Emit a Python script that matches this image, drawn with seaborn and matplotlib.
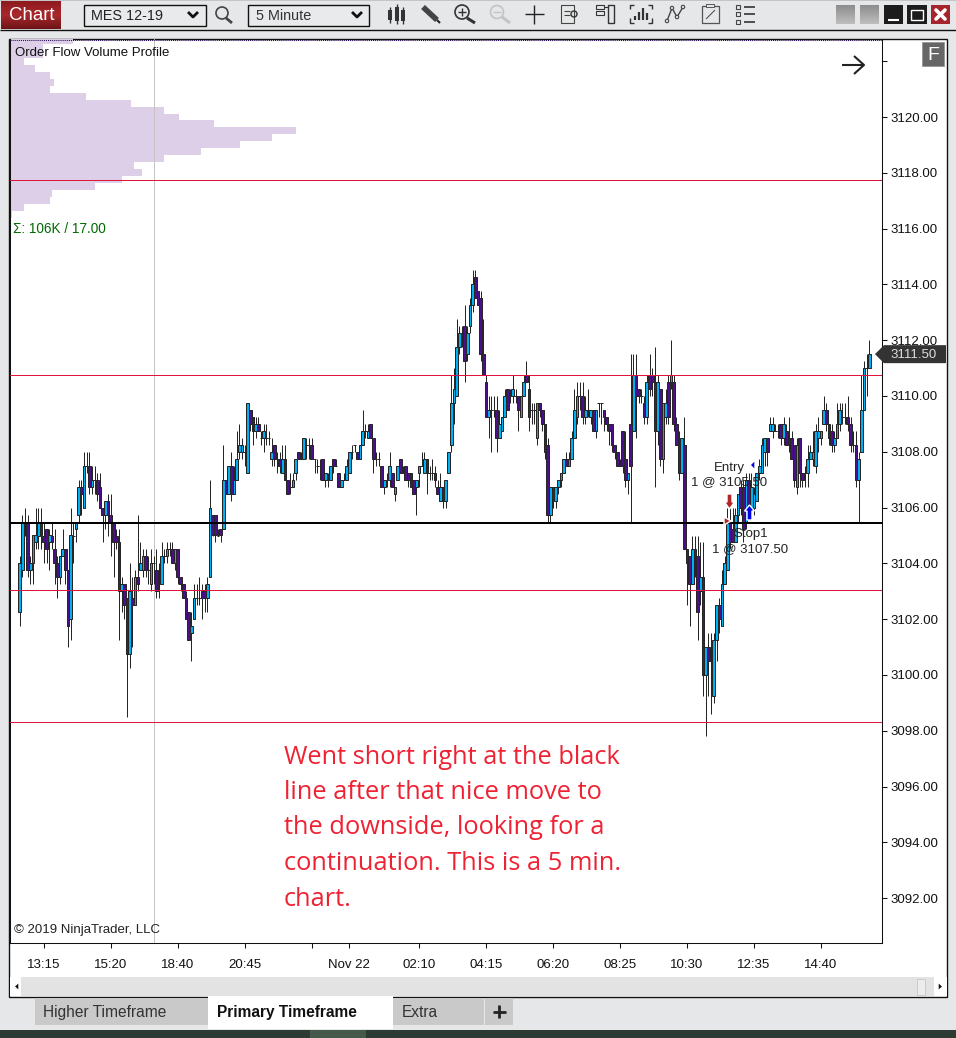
import matplotlib
matplotlib.use("Agg")
import matplotlib.pyplot as plt
from matplotlib.patches import Circle, Polygon, Rectangle
import numpy as np
import pandas as pd
import seaborn as sns

# prices are stored as points above this level
BASE_PRICE = 3100

bar_open = [
    2.25,3.75,5.5,5.5,3.75,4,4.75,5,5.5,5,
    5.25,4.75,5,4.5,4,3.5,4.25,4.5,3.75,2,
    5,5.25,5.75,6.75,6,7.5,7.5,6.75,7,7,
    6.75,6,5.75,6.25,5.75,5.5,5,4.75,3,3.25,
    2.75,0.75,2.75,2.5,3.5,3.75,3.75,4.25,3.75,3.25,
    4,3.75,3.25,3.25,4.25,4.25,4.5,4.5,4,4.5,
    3.5,3.25,2.75,2.25,1.5,2,2.75,2.75,3,3,
    2.75,3.5,5.75,5.75,5,5.25,5.25,7,6.5,7.5,
    6.5,7,8,8,8,7.25,9.5,9.25,8.75,9,
    8.5,8.5,8.5,8.5,7.75,8.25,7.75,7.75,7.25,7.75,
    7,6.75,6.75,7.25,8,7.75,7.75,8.25,8.25,8.25,
    7.75,7.5,7.5,7.75,7,7,7,7.75,7.5,7.25,
    6.75,7,7,7.25,8,8.25,8,7.75,8.25,8.75,
    8.5,9,8.5,7.75,7.75,7.5,6.75,7,7,7.25,
    6.5,7,7.75,7.25,7.5,7.25,7.25,7,6.75,7.25,
    7.5,7.25,7.75,7.25,7.25,7.25,6.75,6.25,6.75,6.25,
    7.25,8.25,9.75,10,11.75,12.25,12.5,11.5,12.5,13.25,
    14.25,13.75,13.5,11.5,10.5,9.25,9.5,9.5,9.5,8.5,
    8.75,9.25,10.25,10,10,10,10,9.25,10,10.75,
    10.25,9.5,9.5,8.5,9.75,9.5,9,8.25,5.75,6.75,
    6.25,6.75,7,7.25,7.75,7.5,7.75,8.5,9.25,10,
    10,9.25,9.5,9.25,9.5,8.75,9.75,9.75,9.5,9.25,
    9,9,8.25,8,7.5,8.75,7.75,7,9,8.75,
    10.75,10.25,10,9.75,9.25,10.75,10.75,10.5,8.75,10.25,
    7.75,9.25,10.5,10.5,10.5,9,8.25,7.25,8.25,4.5,
    4.25,3.25,4.5,4.25,3,3.5,0,1,0.5,-0.75,
    1.25,2.5,1.75,3.25,3.75,5.5,5.25,4.75,5.75,6.75,
    6.75,5.5,7,6,6,6.25,7.25,7.25,8,8.5,
    8.75,8.75,8.75,8.75,9,8.5,8.75,8.5,8.5,8.25,
    6.75,8.5,7.25,7.25,7.25,7.75,7.75,7.5,8.5,8.5,
    9,9.5,9,8.75,8.25,8.5,9,9.25,9.25,9.25,
    9,8.25,8.25,7,8,9.5,11,11,
]
bar_high = [
    4.25,5.75,6,5.75,4.25,5,6,6,6,5.5,
    5.25,5.25,5.5,5.25,4.25,4.25,5.25,4.5,3.75,6,
    5.5,5.5,7,7,8,8,8,7.5,7.5,7.25,
    7.25,6,6.25,6.5,6.5,5.5,5.25,5.25,3.5,3.25,
    2.75,4,3.5,3.75,5.75,4.75,4.5,4.5,4.25,4.5,
    4.25,4.5,4,4.75,4.5,4.75,4.75,4.75,4.5,4.5,
    3.5,3.25,3,2.25,2.25,3.25,3.25,3.5,3.25,3.25,
    3.5,7,5.75,5.75,5.25,5.25,8.25,7,7.5,8,
    7.5,8.75,9,8.5,8.25,9.75,9.5,9.25,9.25,9.25,
    8.75,9,9,8.75,8.5,8.25,8,8,8.25,8.25,
    7,7.25,7.25,7.75,8,8,8.5,8.5,8.5,8.5,
    7.75,7.75,7.75,7.75,7.25,7.25,7.5,7.75,7.75,7.25,
    7,7.25,7.75,8,8.25,8.25,8,8.25,9.5,9,
    9,9,8.5,8,8,7.5,7,7.25,8,7.25,
    6.75,7.5,7.75,7.5,7.5,7.25,7.25,7,7,7.5,
    8,8,7.75,7.5,7.75,7.5,7,7.25,6.75,7,
    8,10.75,11,12.75,12.5,12.5,13.25,12.5,13.5,14.5,
    14.5,13.75,13.75,12.75,10.75,10,10,10,10,9.5,
    9.25,10.25,10.25,10.25,10.75,10.25,10,10,10.75,11.25,
    10.75,9.75,9.75,9.75,9.75,9.5,9,8.5,6.75,6.75,
    6.75,7,7.25,7.75,8,8,8.75,10.25,10.5,10.5,
    10.5,10,10.25,9.5,9.5,9.5,9.75,9.75,9.5,9.25,
    9,9,8.25,8,7.75,8.75,8.75,7.25,11.5,11.5,
    11.5,10.25,10.25,10,10.75,11.5,11,11.75,10.75,10.25,
    9.75,10.25,10.75,12,10.75,9.25,8.75,8.5,9.25,4.5,
    4.25,5,5,5,4.75,4.75,1,1.5,1.5,1.5,
    2.5,2.75,3.75,4.25,6,6,6,6,6.5,7,
    7,7.25,7.25,7.25,6.75,7.25,7.75,8.5,8.5,8.5,
    9.25,9.25,9,9,9,9.25,9,9.25,8.75,8.25,
    8.5,8.5,7.25,7.5,8.25,8.25,8.75,9,9.25,8.75,
    10,9.75,9,9,8.75,9.75,9.75,9.75,9.75,10,
    9.25,8.75,8.75,8,10.75,11.25,11.5,12,
]
bar_low = [
    1.75,3.5,5,3.5,3.25,3.25,4.5,4.5,4.5,4,
    4,3.75,4.5,3.25,2.75,3.25,4.25,3.25,1,1.25,
    4,4.75,5.5,5.75,6,7.25,6.5,6.5,6.5,6.25,
    6,4.75,5.25,5,4.25,3.5,4.5,1.25,2.25,2,
    -1.5,0.25,1,2.5,3,3.75,3.5,3.5,3.25,3,
    3.25,2.75,2.75,3.25,4,4,4.25,4,3.75,3.25,
    3,2.75,2,1.25,0.5,2,2.5,2.5,2,2.25,
    2.25,3.5,5,4.75,5,4.75,5.25,6.5,6.5,6.25,
    6.5,7,7.75,7.75,7.5,7.25,8.75,8.25,8.5,8.75,
    8.25,8,8.25,8.25,7.5,7.5,7.25,7.25,7.25,7,
    6.5,6.5,6.75,7,7.75,7.75,7.75,7.75,7.75,7.75,
    7.25,7.25,7,7,6.75,6.75,7,7.25,7.5,6.75,
    6.75,7,7,7.25,7.75,8,7.75,7.75,8.25,8.5,
    8.5,8.5,7.25,7.5,7.5,6.75,6.5,6.75,6.75,6.75,
    6.25,7,7.25,7.25,7,6.75,6.75,6.5,5.75,6.75,
    7.5,7.25,6.5,7,7,6.75,6.5,6.25,6,6,
    7.25,8,9,10,11.5,11.75,10.5,11.25,12.25,13,
    13.5,13.25,11.25,10.75,9.25,8.5,8,9.25,8,8.5,
    8.75,9.25,9.5,9.75,9.75,9.75,8.75,9.25,10,10.5,
    8.75,9,9,8.25,9.25,8.75,7.75,5.5,5.5,6,
    6,6.5,6.75,7.25,7.5,7.5,7.75,8.5,9,9.5,
    9,9,9.25,9,8.75,8.5,9.25,9,8.75,8.75,
    8.25,8,7.75,7.5,7.5,7.25,6.75,6.5,5.5,8.75,
    8.5,9.75,9.75,9,9,10,10,6.75,8.25,7.5,
    7.25,9,9,10.25,8.75,8.25,7,7.25,4.5,2.5,
    1.75,3.25,3.5,1.25,2.5,-0.75,-2.2,-0.75,-1.4,-1,
    0.5,1.5,1.75,3.25,3.75,4.5,4.75,4.75,5.5,5.75,
    4.75,5.25,5.75,5.75,5.75,6.25,7,7.25,7.5,7.5,
    8.75,8.5,8.75,8.5,8.25,8.25,8.25,8,7.75,6.75,
    6.5,6.75,6.75,6.75,6.75,7.75,7.5,7.25,8,8.25,
    9,8.75,8.25,8,8,8.5,8.75,9,9,8.75,
    8,8,6.75,5.5,8,9.5,10,11,
]
bar_close = [
    4,5.5,5.5,3.75,4,5,5,5.5,5,4.75,
    4.5,5,4.75,4,3.5,4.25,4.5,3.75,1.75,5,
    5,5.5,6.75,6.5,7.5,7.5,6.75,7,7,6.5,
    6,5.75,6.25,5.75,5.5,4.75,4.75,3,3.25,2.5,
    0.75,3,2.5,3.5,3.25,4,4.25,3.75,3.75,4,
    4,3,3.25,4.25,4.25,4.5,4.5,4,4.5,3.5,
    3.25,2.75,2,1.25,1.75,2.75,2.75,2.75,2.75,2.75,
    3.25,6,5,5,5,5,7,6.5,7.5,6.5,
    7,7.75,8.25,8.25,8,9.75,9,8.75,9,8.75,
    8.5,8.75,8.5,8.5,8,7.75,7.75,7.5,7.75,7,
    6.5,6.75,7,7.75,7.75,7.75,8.5,8.25,8.25,7.75,
    7.75,7.5,7.5,7,7.25,7,7.5,7.5,7.5,6.75,
    7,7,7.5,8,8,8.25,7.75,8.25,8.75,8.75,
    8.75,8.5,7.75,7.75,7.75,6.75,7,7,7.5,6.75,
    6.75,7.5,7.25,7.25,7,7,6.75,6.5,7,7.5,
    7.5,7.75,7.25,7.25,7.25,7,6.5,6.75,6.25,7,
    8,9.75,10.25,11.75,12.25,12.25,11.25,12.25,13.25,14,
    13.5,13.25,11.5,10.75,9.25,9.5,9.5,9.5,8.5,9,
    9.25,10,9.5,10,10.25,10,9.5,10,10.5,10.5,
    9.25,9.5,9.5,9.75,9.5,9,8,5.75,6.75,6.25,
    6.75,7,7.25,7.75,7.5,7.75,8.5,9.5,10,10,
    9.25,9.5,9.5,9.5,8.75,9.5,9.75,9.75,9.25,9,
    8.75,8.25,8,7.5,7.5,7.5,7,7.25,7.5,10.75,
    10,10,10,9.25,10.5,10.25,10.5,8.75,10.5,7.75,
    9.75,9.75,9.25,10.75,9,8.25,7.25,8.5,4.5,4,
    3.25,4.5,4.25,2.25,3.5,0,1,0.5,0.5,1.25,
    2.5,2,3.25,4,5.5,4.75,4.75,5.75,6.5,6,
    5.25,7,6,6.75,6.5,7.25,7.5,8.25,8.5,8,
    9,9,8.75,8.75,8.5,9,8.25,8.25,7.75,7,
    8.25,7.25,7,7.25,7.75,8,8,8.75,8.75,8.75,
    9.5,9,8.5,8.25,8.5,9,9.5,9.25,9.25,9,
    8.25,8.25,7,7.75,9.5,11,11,11.5,
]

# order flow volume profile, one row per 0.25 point
profile_price = [
    3122.75, 3122.5, 3122.25, 3122, 3121.75, 3121.5, 3121.25, 3121, 3120.75,
    3120.5, 3120.25, 3120, 3119.75, 3119.5, 3119.25, 3119, 3118.75, 3118.5,
    3118.25, 3118, 3117.75, 3117.5, 3117.25, 3117, 3116.75, 3116.5,
]
profile_volume = [
    2480, 1300, 1300, 550, 985, 1575, 1735, 1575, 2995,
    4770, 6070, 6660, 8040, 11270, 10320, 9060, 7525, 6070,
    4885, 5200, 4410, 3350, 1655, 1575, 550, 60,
]

red_levels = [3117.755, 3110.765, 3103.055, 3098.315]
black_level = 3105.45
cursor_bar = 50
last_price = 3111.5

y_ticks = list(range(3092, 3124, 2))
y_tick_labels = [f"{v:.2f}" if v < 3122 else "" for v in y_ticks]
x_ticks = [9, 34, 59, 84, 109, 123, 149, 174, 199, 224, 249, 274, 299]
x_tick_labels = ["13:15", "15:20", "18:40", "20:45", "", "Nov 22", "02:10",
                 "04:15", "06:20", "08:25", "10:30", "12:35", "14:40"]

note_lines = [
    "Went short right at the black",
    "line after that nice move to",
    "the downside, looking for a",
    "continuation. This is a 5 min.",
    "chart.",
]

W, H = 956, 1038
PX_PER_POINT = 27.9
PX_PER_BAR = 2.68

sns.set_style("white")
plt.rcParams["font.family"] = ["Liberation Sans", "DejaVu Sans"]

bars = pd.DataFrame({"bar": np.arange(len(bar_open)),
                     "open": BASE_PRICE + np.array(bar_open),
                     "high": BASE_PRICE + np.array(bar_high),
                     "low": BASE_PRICE + np.array(bar_low),
                     "close": BASE_PRICE + np.array(bar_close)})
bars["body"] = bars["close"] - bars["open"]
profile = pd.DataFrame({"price": profile_price, "volume": profile_volume})

fig = plt.figure(figsize=(W / 100, H / 100), dpi=100, facecolor="#e6e7e8")


def pixel_axes(zorder):
    a = fig.add_axes([0, 0, 1, 1], zorder=zorder)
    a.set_xlim(0, W)
    a.set_ylim(H, 0)
    a.axis("off")
    a.patch.set_visible(False)
    return a


def box(a, x0, y0, x1, y1, fc, ec="none", lw=0.0, **kw):
    a.add_patch(Rectangle((x0, y0), x1 - x0, y1 - y0, facecolor=fc, edgecolor=ec, linewidth=lw, **kw))


def seg(a, xs, ys, c="#333333", lw=1.0):
    a.plot(xs, ys, color=c, lw=lw, solid_capstyle="butt")


# ---- window chrome ----
ui = pixel_axes(0)
box(ui, 0, 0, W, 1, "#c4c5c6")
seg(ui, [0, W], [29.5, 29.5], "#111111", 1.0)
ui.imshow(np.linspace(0, 1, 30).reshape(-1, 1), extent=(1, 61, 29, 1), aspect="auto", zorder=1,
          cmap=matplotlib.colors.LinearSegmentedColormap.from_list("b", ["#8e1a1f", "#a8282c", "#6e1418"]))
ui.set_xlim(0, W)
ui.set_ylim(H, 0)
ui.text(32, 15.5, "Chart", color="white", fontsize=13.4, ha="center", va="center", zorder=2)
box(ui, 84.5, 4.5, 206.5, 25.5, "#e9eaeb", "#111111", 1.0)
box(ui, 248.5, 4.5, 369.5, 25.5, "#e9eaeb", "#111111", 1.0)
ui.text(91, 15.5, "MES 12-19", color="#222222", fontsize=10.4, va="center")
ui.text(256, 15.5, "5 Minute", color="#333333", fontsize=10.4, va="center")
for cx in [193, 357]:
    seg(ui, [cx - 5, cx, cx + 5], [12, 17, 12], "#111111", 2.0)

# toolbar icons
ui.add_patch(Circle((222, 13), 6, fill=False, ec="#444444", lw=1.2))
seg(ui, [226, 232], [18, 23], "#444444", 2)
for cx, y0, y1, h0, h1 in [(390, 7, 23, 10, 20), (397, 4, 24, 7, 21), (403, 7, 24, 10, 21)]:
    seg(ui, [cx, cx], [y0, y1], "#333333", 1)
    box(ui, cx - 2, h0, cx + 2, h1, "#333333")
seg(ui, [423, 437], [7, 20], "#444444", 4)
seg(ui, [437, 440], [20, 23], "#222222", 1.5)
ui.add_patch(Circle((462, 12), 7, fill=False, ec="#333333", lw=1.2))
seg(ui, [458, 466], [12, 12], "#333333", 1)
seg(ui, [462, 462], [8, 16], "#333333", 1)
seg(ui, [467, 475], [18, 23], "#333333", 2.2)
ui.add_patch(Circle((497, 12), 6.5, fill=False, ec="#c4c4c4", lw=1.2))
seg(ui, [493, 501], [12, 12], "#c4c4c4", 1)
seg(ui, [502, 510], [17, 23], "#c4c4c4", 2.2)
seg(ui, [525, 544], [14, 14], "#222222", 1)
seg(ui, [534.5, 534.5], [5, 24], "#222222", 1)
box(ui, 561, 5, 574, 23, "none", "#444444", 0.8)
ui.add_patch(Circle((574, 14), 3, fill=False, ec="#333333", lw=1))
seg(ui, [564, 570], [11, 11], "#444444", 0.8)
seg(ui, [564, 570], [15, 15], "#444444", 0.8)
box(ui, 596, 5, 604, 9, "none", "#333333", 0.8)
box(ui, 596, 11, 604, 15, "none", "#333333", 0.8)
box(ui, 608, 5, 614, 23, "none", "#333333", 1)
seg(ui, [604, 608], [7, 7], "#333333", 0.8)
for cx, bar_top in [(635, 16), (639, 12), (643, 8), (647, 13)]:
    seg(ui, [cx, cx], [bar_top, 20], "#333333", 1.6)
seg(ui, [630, 630, 634], [9, 5, 5], "#333333", 1)
seg(ui, [630, 630, 634], [18, 23, 23], "#333333", 1)
seg(ui, [648, 652, 652], [5, 5, 9], "#333333", 1)
seg(ui, [648, 652, 652], [23, 23, 18], "#333333", 1)
seg(ui, [667, 672, 677, 683], [21, 8, 17, 7], "#444444", 1)
for cx, cy in [(667, 21), (672, 8), (677, 17), (683, 7)]:
    ui.add_patch(Circle((cx, cy), 1.7, fc="#e6e7e8", ec="#444444", lw=0.8, zorder=3))
box(ui, 702, 6, 719, 23, "none", "#555555", 0.9)
box(ui, 706, 4, 714, 7, "#e6e7e8", "#555555", 0.7)
seg(ui, [706, 715], [19, 10], "#555555", 0.8)
for cy in [7, 14, 22]:
    box(ui, 736, cy - 2, 740, cy + 2, "none", "#444444", 0.8)
    seg(ui, [744, 755], [cy, cy], "#333333", 1.2)

# window buttons
for x0 in [836, 860]:
    ui.imshow(np.linspace(0, 1, 20).reshape(-1, 1), extent=(x0, x0 + 19, 24, 5), aspect="auto", zorder=1,
              cmap=matplotlib.colors.LinearSegmentedColormap.from_list("g", ["#8e8e8e", "#bdbdbd"]))
ui.set_xlim(0, W)
ui.set_ylim(H, 0)
box(ui, 884, 5, 903, 24, "#1c1c1c", zorder=2)
seg(ui, [888, 899], [20, 20], "white", 1.5)
box(ui, 907, 5, 927, 24, "#1c1c1c", zorder=2)
box(ui, 911, 10, 923, 20, "none", "white", 1, zorder=3)
box(ui, 931, 5, 950, 24, "#a4262c", zorder=2)
ui.plot([936, 945], [10, 19], color="white", lw=2.6, zorder=3)
ui.plot([945, 936], [10, 19], color="white", lw=2.6, zorder=3)

# chart frame, x axis strip and scroll bar
box(ui, 9.5, 38.5, 947.5, 996.5, "white", "#111111", 1.0)
box(ui, 10, 977, 947, 996, "#e3e3e3")
box(ui, 10, 977, 21, 996, "white")
box(ui, 934, 977, 947, 996, "white")
box(ui, 917, 979, 925, 995, "#ececec", "#cccccc", 0.7)
ui.add_patch(Polygon([[19, 982], [19, 991], [14, 986.5]], fc="#111111"))
ui.add_patch(Polygon([[938, 982], [938, 991], [943, 986.5]], fc="#111111"))

# tabs
box(ui, 0, 1030, W, H, "#2e3a34")
box(ui, 310, 1030, 366, H, "#465a4b")
box(ui, 35, 998, 208, 1025, "#c9c9c9")
box(ui, 208, 996, 393, 1029, "white")
box(ui, 393, 998, 484, 1025, "#c9c9c9")
box(ui, 485, 998, 513, 1025, "#c9c9c9")
ui.text(43, 1012.5, "Higher Timeframe", color="#333333", fontsize=11.2, va="center")
ui.text(217, 1012.5, "Primary Timeframe", color="#111111", fontsize=11.2, va="center", fontweight="bold")
ui.text(402, 1012.5, "Extra", color="#333333", fontsize=11.2, va="center")
seg(ui, [493, 506], [1011.5, 1011.5], "#222222", 2)
seg(ui, [499.5, 499.5], [1005, 1018], "#222222", 2)

# ---- price chart ----
ax_rect = [10 / W, 1 - 943 / H, 872 / W, 904 / H]
y_lim = (3120 - (943 - 117) / PX_PER_POINT, 3120 + (117 - 39) / PX_PER_POINT)
x_lim = ((10 - 19.7) / PX_PER_BAR, (882 - 19.7) / PX_PER_BAR)

ax_profile = fig.add_axes(ax_rect, zorder=1)
sns.barplot(data=profile, y="price", x="volume", orient="y", native_scale=True, width=1,
            color="#dccfe7", saturation=1, linewidth=0, errorbar=None, ax=ax_profile)
ax_profile.set_xlim(0, 872 * 39.4)
ax_profile.set_ylim(*y_lim)
ax_profile.axis("off")

ax = fig.add_axes(ax_rect, zorder=2)
ax.patch.set_visible(False)
ax.axvline(cursor_bar, color="#c4c4c4", lw=0.72, zorder=0.2)
ax.vlines(bars["bar"], bars["low"], bars["high"], color="#262626", lw=0.72, zorder=0.5)

up_bars = bars[bars["close"] >= bars["open"]]
down_bars = bars[bars["close"] < bars["open"]]
sns.barplot(data=down_bars, x="bar", y="body", bottom=down_bars["open"].values, native_scale=True,
            width=1.0, color="#4b0f8c", saturation=1, edgecolor="#262626", linewidth=0.72,
            errorbar=None, ax=ax)
sns.barplot(data=up_bars, x="bar", y="body", bottom=up_bars["open"].values, native_scale=True,
            width=1.0, color="#00b0f0", saturation=1, edgecolor="#262626", linewidth=0.72,
            errorbar=None, ax=ax)

for level in red_levels:
    ax.axhline(level, color="#e0143c", lw=0.72, zorder=3)
ax.axhline(black_level, color="black", lw=1.44, zorder=3)

ax.set_xlim(*x_lim)
ax.set_ylim(*y_lim)
ax.set_xlabel("")
ax.set_ylabel("")
ax.yaxis.tick_right()
ax.set_yticks(y_ticks, y_tick_labels)
ax.set_xticks(x_ticks, x_tick_labels)
ax.tick_params(axis="y", right=True, length=3.6, width=0.75, pad=2.2, labelsize=9.5, colors="#111111")
ax.tick_params(axis="x", bottom=True, length=3.6, width=0.75, pad=7.9, labelsize=9.5, colors="#111111")
for side in ["left", "right", "bottom"]:
    ax.spines[side].set_visible(True)
    ax.spines[side].set_color("#111111")
    ax.spines[side].set_linewidth(0.75)
ax.spines["top"].set_visible(False)

# ---- things drawn over the chart, placed in window pixels ----
top = pixel_axes(5)
top.plot([10, 882], [39.5, 39.5], color="#2a0a55", lw=0.75, ls=(0, (1, 1)))
top.text(15, 53, "Order Flow Volume Profile", color="#111111", fontsize=9.5, va="center")
top.text(13, 229, "Σ: 106K / 17.00", color="#006a00", fontsize=9.8, va="center")
top.text(14, 930.5, "© 2019 NinjaTrader, LLC", color="#222222", fontsize=9.5, va="center")

seg(top, [842, 864], [65, 65], "#222222", 1.5)
seg(top, [854, 864, 854], [56, 65, 74], "#222222", 1.5)
box(top, 922, 42, 944, 66, "#666666", "#999999", 0.7)
top.text(933, 55, "F", color="white", fontsize=14, ha="center", va="center")

# last price marker
price_y = 117 + (3120 - last_price) * PX_PER_POINT
top.add_patch(Polygon([[875, price_y], [884, price_y - 9], [946, price_y - 9], [946, price_y + 9], [884, price_y + 9]],
                      fc="#333333", ec="none"))
top.text(914, price_y + 1, f"{last_price:.2f}", color="#dddddd", fontsize=9.5, ha="center", va="center")

# execution markers
top.add_patch(Polygon([[727, 494], [732, 494], [732, 502], [734.5, 502], [729.5, 509], [724.5, 502], [727, 502]], fc="#b0242a"))
top.add_patch(Polygon([[724, 517], [731, 521], [724, 525]], fc="#b0242a"))
top.add_patch(Polygon([[755, 460], [755, 470], [750, 465]], fc="#0000e6"))
top.add_patch(Polygon([[747, 520], [747, 511], [744.5, 511], [749.5, 505], [754.5, 511], [752, 511], [752, 520]], fc="#0000e6"))
top.text(729.5, 467.5, "Entry", color="#222222", fontsize=9.5, ha="center", va="center")
top.text(729, 482.5, "1 @ 3105.50", color="#222222", fontsize=9.5, ha="center", va="center")
top.text(750.5, 534, "Stop1", color="#222222", fontsize=9.5, ha="center", va="center")
top.text(750, 549, "1 @ 3107.50", color="#222222", fontsize=9.5, ha="center", va="center")

for n, line in enumerate(note_lines):
    top.text(284, 757 + n * 35.5, line, color="#ee2233", fontsize=18.3, va="center",
             family=["Open Sans", "DejaVu Sans"])

fig.savefig("out.png", dpi=100, facecolor=fig.get_facecolor())
